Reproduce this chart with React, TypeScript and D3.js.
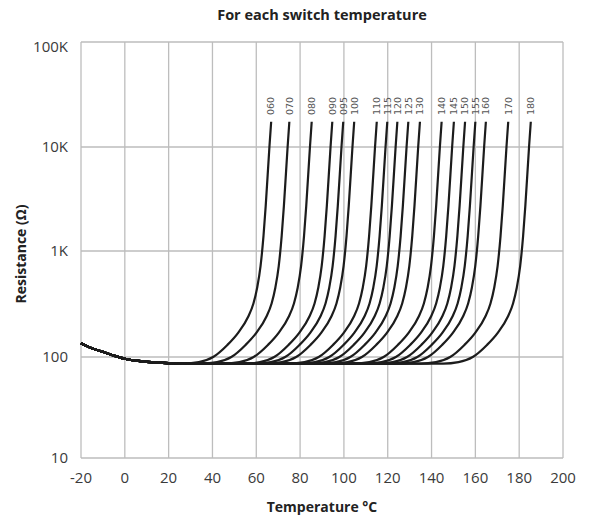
import * as d3 from "d3";

// switch temperature codes, left to right
const switchLabels = ["060", "070", "080", "090", "095", "100", "110", "115", "120", "125", "130", "140", "145", "150", "155", "160", "170", "180"];
// temperature (°C) where each curve reaches the top of its rise
const topTemps = [66.8, 75.1, 85.3, 94.7, 99.7, 104.7, 115.0, 119.8, 124.4, 129.4, 134.7, 144.6, 150.2, 155.3, 160.0, 164.8, 175.0, 185.3];

// shared cold part of the curve (°C, Ω)
const coldTemps = [-20, -15, -10, -5, 0, 5, 10, 15, 20, 25, 30];
const coldRes = [135, 121, 112, 103, 96, 92, 89.5, 88, 87, 86.3, 86];

// rise shape: offset from top temp (°C), resistance (Ω)
const riseOffsets = [-40, -33, -26.5, -20, -15, -10.5, -8.1, -6.4, -4.85, -3.5, -2.5, -0.8, 0];
const riseRes = [86, 89, 100, 130, 170, 240, 320, 450, 720, 1400, 2700, 10000, 17400];

const xTicks = [-20, 0, 20, 40, 60, 80, 100, 120, 140, 160, 180, 200];
const yTicks = [10, 100, 1000, 10000, 100000];
const yTickLabels = ["10", "100", "1K", "10K", "100K"];

const W = 589;
const H = 525;
const FONT = "'Open Sans', 'DejaVu Sans', sans-serif";

export default function App() {
  const x = d3.scaleLinear().domain([-20, 200]).range([81, 563]);
  // the printed decades are not quite even, so map each one
  const y = d3.scaleLog()
    .domain([10, 100, 1000, 10000, 100000])
    .range([458, 357, 251, 147, 42]);

  const line = d3.line<[number, number]>()
    .x(d => x(d[0]))
    .y(d => y(d[1]))
    .curve(d3.curveMonotoneX);

  const curves = topTemps.map((top, i) => {
    const start = top + riseOffsets[0];
    const pts: [number, number][] = [];
    coldTemps.forEach((t, j) => {
      if (t < start) pts.push([t, coldRes[j]]);
    });
    riseOffsets.forEach((o, j) => pts.push([top + o, riseRes[j]]));
    return { label: switchLabels[i], top, d: line(pts) ?? "" };
  });

  const [x0, x1] = x.range();
  const [y0, y1] = [y(10), y(100000)];

  return (
    <svg width={W} height={H} style={{ position: "absolute", left: 0, top: 0, background: "#fff" }}>
      <text x={(x0 + x1) / 2} y={20} textAnchor="middle" fontFamily={FONT} fontWeight="bold" fontSize={14.5} fill="#222">
        For each switch temperature
      </text>

      <g stroke="#bdbdbd" strokeWidth={1.3}>
        {xTicks.map(t => (
          <line key={"gx" + t} x1={x(t)} x2={x(t)} y1={y1} y2={y0} />
        ))}
        {yTicks.map(t => (
          <line key={"gy" + t} x1={x0} x2={x1} y1={y(t)} y2={y(t)} />
        ))}
      </g>

      <g fontFamily={FONT} fontSize={15} fill="#3a3a3a">
        {yTicks.map((t, i) => (
          <text key={"ly" + t} x={68} y={y(t) + (t === 100000 ? 5 : 0)} dy="0.35em" textAnchor="end">
            {yTickLabels[i]}
          </text>
        ))}
        {xTicks.map(t => (
          <text key={"lx" + t} x={x(t)} y={483} textAnchor="middle">
            {t}
          </text>
        ))}
      </g>

      <g fill="none" stroke="#1c1c1c" strokeWidth={2.2}>
        {curves.map(c => (
          <path key={c.label} d={c.d} />
        ))}
      </g>

      <g fontFamily="'DejaVu Sans', sans-serif" fontSize={9.5} fill="#555">
        {curves.map(c => (
          <text key={"t" + c.label} transform={`translate(${x(c.top)},115) rotate(-90)`} dy="0.35em">
            {c.label}
          </text>
        ))}
      </g>

      <text x={(x0 + x1) / 2} y={512} textAnchor="middle" fontFamily={FONT} fontWeight="bold" fontSize={14} fill="#222">
        Temperature °C
      </text>
      <text transform={`translate(26,254) rotate(-90)`} textAnchor="middle" fontFamily={FONT} fontWeight="bold" fontSize={14} fill="#222">
        Resistance (Ω)
      </text>
    </svg>
  );
}
